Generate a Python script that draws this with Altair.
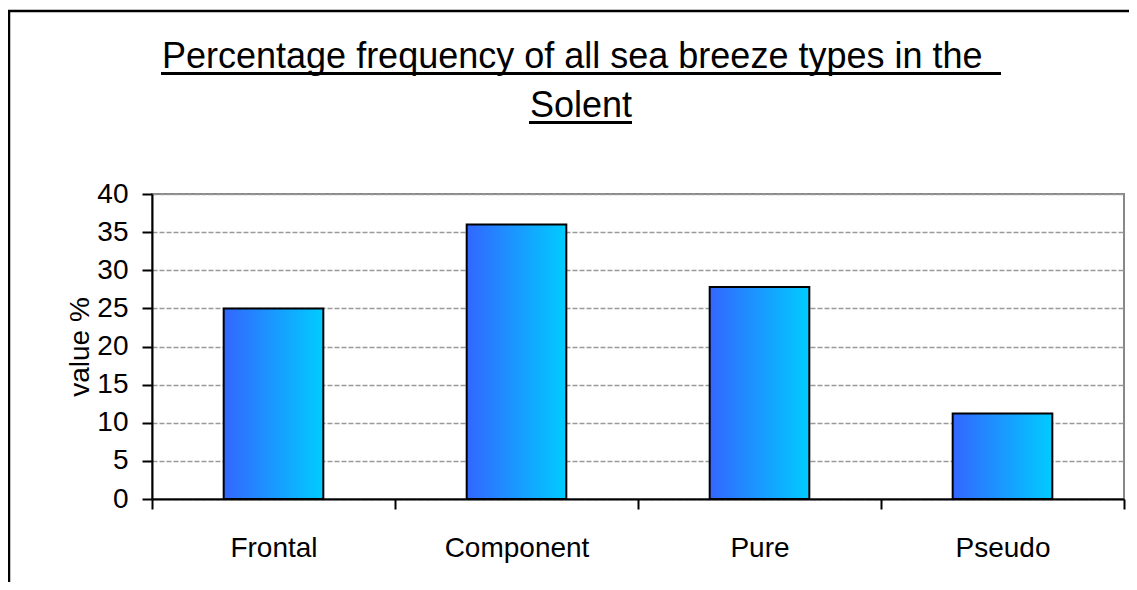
import altair as alt
import pandas as pd

categories = ["Frontal", "Component", "Pure", "Pseudo"]
values = [25.0, 36.0, 27.8, 11.2]
y_ticks = [0, 5, 10, 15, 20, 25, 30, 35, 40]
title_lines = ["Percentage frequency of all sea breeze types in the", "Solent"]
y_title = "value %"

FONT = "Liberation Sans"
W, H = 972, 305

df = pd.DataFrame({"type": categories, "value": values})
one = pd.DataFrame({"k": [0]})

grad = alt.LinearGradient(
    gradient="linear",
    stops=[alt.GradientStop(color="#3366FF", offset=0),
           alt.GradientStop(color="#00CCFF", offset=1)],
    x1=0, x2=1, y1=0, y2=0,
)

bars = alt.Chart(df).mark_bar(color=grad, stroke="black", strokeWidth=2,
                              width=alt.RelativeBandSize(0.41)).encode(
    x=alt.X("type:N", sort=categories,
            scale=alt.Scale(paddingInner=0, paddingOuter=0),
            axis=alt.Axis(title=None, labelAngle=0, tickBand="extent",
                          labelFontSize=28, labelPadding=25, tickSize=10,
                          tickWidth=2, tickColor="black", domainColor="black",
                          domainWidth=2, grid=False, labelColor="black")),
    y=alt.Y("value:Q", scale=alt.Scale(domain=[0, 40], nice=False),
            axis=alt.Axis(title=y_title, values=y_ticks, labelFontSize=28,
                          labelPadding=14, tickSize=10, tickWidth=2,
                          tickColor="black", domainColor="black", domainWidth=2,
                          grid=True, gridColor="#9a9a9a", gridDash=[5, 2],
                          gridWidth=1.5, titleFontSize=28,
                          titleFontWeight="normal", titleColor="black",
                          titlePadding=2, labelColor="black")),
)

base = alt.Chart(one)
title1 = base.mark_text(text=title_lines[0], fontSize=36, font=FONT,
                        align="left", baseline="alphabetic",
                        color="black").encode(x=alt.value(10), y=alt.value(-126))
title2 = base.mark_text(text=title_lines[1], fontSize=36, font=FONT,
                        align="center", baseline="alphabetic",
                        color="black").encode(x=alt.value(429), y=alt.value(-77))
underline1 = base.mark_rule(color="black", strokeWidth=3).encode(
    x=alt.value(9), x2=alt.value(849), y=alt.value(-120.5))
underline2 = base.mark_rule(color="black", strokeWidth=3).encode(
    x=alt.value(377), x2=alt.value(480), y=alt.value(-71.5))
frame = base.mark_rect(fillOpacity=0, stroke="black", strokeWidth=2.5).encode(
    x=alt.value(-143), x2=alt.value(1200), y=alt.value(-183), y2=alt.value(600))

chart = alt.layer(frame, bars, title1, title2, underline1, underline2).properties(
    width=W, height=H,
    autosize=alt.AutoSizeParams(type="none"),
    padding={"left": 144, "top": 186, "right": 5, "bottom": 83},
).configure(font=FONT).configure_view(
    stroke="#888888", strokeWidth=2
).configure_axis(labelFont=FONT, titleFont=FONT)

chart.save("out.html", embed_options={"renderer": "svg", "actions": False})
